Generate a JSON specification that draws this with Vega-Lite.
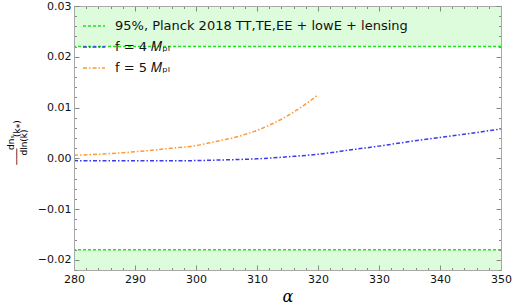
{
  "$schema": "https://vega.github.io/schema/vega-lite/v6.json",
  "width": 427,
  "height": 264,
  "autosize": "none",
  "padding": {"left": 74, "top": 6, "right": 11, "bottom": 37},
  "config": {
    "view": {"stroke": null},
    "font": "DejaVu Sans",
    "axis": {
      "domainColor": "#a8a8a8",
      "tickColor": "#888888",
      "labelColor": "#111111",
      "labelFont": "DejaVu Sans",
      "labelFontSize": 11,
      "labelFlush": false,
      "grid": false
    }
  },
  "datasets": {
    "curves": [
      {"alpha": 280, "value": -0.00045, "series": "f = 4 𝑀ₚₗ"},
      {"alpha": 285, "value": -0.0005, "series": "f = 4 𝑀ₚₗ"},
      {"alpha": 290, "value": -0.0005, "series": "f = 4 𝑀ₚₗ"},
      {"alpha": 295, "value": -0.0005, "series": "f = 4 𝑀ₚₗ"},
      {"alpha": 300, "value": -0.00045, "series": "f = 4 𝑀ₚₗ"},
      {"alpha": 305, "value": -0.0003, "series": "f = 4 𝑀ₚₗ"},
      {"alpha": 310, "value": -0.0001, "series": "f = 4 𝑀ₚₗ"},
      {"alpha": 315, "value": 0.0003, "series": "f = 4 𝑀ₚₗ"},
      {"alpha": 320, "value": 0.0008, "series": "f = 4 𝑀ₚₗ"},
      {"alpha": 325, "value": 0.0016, "series": "f = 4 𝑀ₚₗ"},
      {"alpha": 330, "value": 0.0024, "series": "f = 4 𝑀ₚₗ"},
      {"alpha": 335, "value": 0.0033, "series": "f = 4 𝑀ₚₗ"},
      {"alpha": 340, "value": 0.0041, "series": "f = 4 𝑀ₚₗ"},
      {"alpha": 345, "value": 0.0049, "series": "f = 4 𝑀ₚₗ"},
      {"alpha": 350, "value": 0.0058, "series": "f = 4 𝑀ₚₗ"},
      {"alpha": 280, "value": 0.0006, "series": "f = 5 𝑀ₚₗ"},
      {"alpha": 284, "value": 0.0008, "series": "f = 5 𝑀ₚₗ"},
      {"alpha": 288, "value": 0.0011, "series": "f = 5 𝑀ₚₗ"},
      {"alpha": 292, "value": 0.0015, "series": "f = 5 𝑀ₚₗ"},
      {"alpha": 296, "value": 0.002, "series": "f = 5 𝑀ₚₗ"},
      {"alpha": 300, "value": 0.0025, "series": "f = 5 𝑀ₚₗ"},
      {"alpha": 302, "value": 0.003, "series": "f = 5 𝑀ₚₗ"},
      {"alpha": 304, "value": 0.0035, "series": "f = 5 𝑀ₚₗ"},
      {"alpha": 306, "value": 0.004, "series": "f = 5 𝑀ₚₗ"},
      {"alpha": 308, "value": 0.0047, "series": "f = 5 𝑀ₚₗ"},
      {"alpha": 310, "value": 0.0055, "series": "f = 5 𝑀ₚₗ"},
      {"alpha": 312, "value": 0.0065, "series": "f = 5 𝑀ₚₗ"},
      {"alpha": 314, "value": 0.0077, "series": "f = 5 𝑀ₚₗ"},
      {"alpha": 316, "value": 0.0091, "series": "f = 5 𝑀ₚₗ"},
      {"alpha": 318, "value": 0.0107, "series": "f = 5 𝑀ₚₗ"},
      {"alpha": 320, "value": 0.0125, "series": "f = 5 𝑀ₚₗ"}
    ],
    "bounds": [
      {"bound": 0.022, "series": "95%, Planck 2018 TT,TE,EE + lowE + lensing"},
      {"bound": -0.018, "series": "95%, Planck 2018 TT,TE,EE + lowE + lensing"}
    ],
    "bands": [
      {"lo": 0.022, "hi": 0.03},
      {"lo": -0.022, "hi": -0.018}
    ]
  },
  "layer": [
    {
      "data": {"name": "bands"},
      "mark": {"type": "rect", "fill": "#dcfcdc"},
      "encoding": {
        "x": {"datum": 280, "type": "quantitative", "scale": {"domain": [280, 350], "nice": false, "zero": false},
          "axis": {"orient": "top", "title": null, "labels": false, "zindex": 2,
            "values": [280,282,284,286,288,290,292,294,296,298,300,302,304,306,308,310,312,314,316,318,320,322,324,326,328,330,332,334,336,338,340,342,344,346,348,350],
            "tickSize": {"condition": {"test": "datum.value % 10 === 0", "value": -5}, "value": -2.5}}},
        "x2": {"datum": 350},
        "y": {"field": "lo", "type": "quantitative", "scale": {"domain": [-0.022, 0.03], "nice": false, "zero": false},
          "axis": {"orient": "right", "title": null, "labels": false, "zindex": 2,
            "values": [-0.022,-0.02,-0.018,-0.016,-0.014,-0.012,-0.01,-0.008,-0.006,-0.004,-0.002,0,0.002,0.004,0.006,0.008,0.01,0.012,0.014,0.016,0.018,0.02,0.022,0.024,0.026,0.028,0.03],
            "tickSize": {"condition": {"test": "abs(datum.value*100 - round(datum.value*100)) < 0.001", "value": -5}, "value": -2.5}}},
        "y2": {"field": "hi"}
      }
    },
    {
      "data": {"name": "bounds"},
      "mark": {"type": "rule", "strokeWidth": 1.5},
      "encoding": {
        "y": {"field": "bound", "type": "quantitative", "axis": null},
        "color": {"field": "series", "type": "nominal"},
        "strokeDash": {"field": "series", "type": "nominal"}
      }
    },
    {
      "data": {"name": "curves"},
      "mark": {"type": "line", "strokeWidth": 1.5, "interpolate": "monotone"},
      "encoding": {
        "x": {"field": "alpha", "type": "quantitative",
          "axis": {"orient": "bottom", "zindex": 2, "title": "α", "titleFont": "DejaVu Serif", "titleFontStyle": "italic", "titleFontWeight": "normal", "titleFontSize": 16, "titlePadding": 4, "labelPadding": 8,
            "values": [280,282,284,286,288,290,292,294,296,298,300,302,304,306,308,310,312,314,316,318,320,322,324,326,328,330,332,334,336,338,340,342,344,346,348,350],
            "labelExpr": "datum.value % 10 === 0 ? datum.label : ''",
            "tickSize": {"condition": {"test": "datum.value % 10 === 0", "value": -5}, "value": -2.5}}},
        "y": {"field": "value", "type": "quantitative",
          "axis": {"orient": "left", "zindex": 2, "labelPadding": 8,
            "title": ["dnₛ\u00a0\u00a0\u00a0\u00a0\u00a0\u00a0\u00a0\u00a0\u00a0\u00a0\u00a0", "───\u00a0\u00a0\u00a0\u00a0(k⁎)", "dln(k)\u00a0\u00a0\u00a0\u00a0\u00a0\u00a0\u00a0\u00a0\u00a0\u00a0\u00a0"],
            "titleFont": "DejaVu Sans", "titleFontSize": 9, "titleFontWeight": "normal", "titleLineHeight": 6.5, "titlePadding": 9, "titleY": 136,
            "values": [-0.022,-0.02,-0.018,-0.016,-0.014,-0.012,-0.01,-0.008,-0.006,-0.004,-0.002,0,0.002,0.004,0.006,0.008,0.01,0.012,0.014,0.016,0.018,0.02,0.022,0.024,0.026,0.028,0.03],
            "labelExpr": "abs(datum.value*100 - round(datum.value*100)) < 0.001 ? replace(format(datum.value, '.2f'), '-', '−') : ''",
            "tickSize": {"condition": {"test": "abs(datum.value*100 - round(datum.value*100)) < 0.001", "value": -5}, "value": -2.5}}},
        "color": {"field": "series", "type": "nominal",
          "scale": {"domain": ["95%, Planck 2018 TT,TE,EE + lowE + lensing", "f = 4 𝑀ₚₗ", "f = 5 𝑀ₚₗ"], "range": ["#22e022", "#3a3af0", "#ff9a33"]},
          "legend": {"orient": "none", "legendX": 8, "legendY": 8, "title": null, "padding": 0, "labelFontSize": 13, "labelFont": "DejaVu Sans", "labelColor": "#111111", "labelLimit": 0, "symbolType": "stroke", "symbolSize": 484, "symbolStrokeWidth": 1.5, "rowPadding": 2, "labelOffset": 9}},
        "strokeDash": {"field": "series", "type": "nominal",
          "scale": {"domain": ["95%, Planck 2018 TT,TE,EE + lowE + lensing", "f = 4 𝑀ₚₗ", "f = 5 𝑀ₚₗ"], "range": [[3, 2], [4, 2, 1.5, 2], [4, 2, 1.5, 2]]},
          "legend": {"orient": "none", "legendX": 8, "legendY": 8, "title": null, "padding": 0, "labelFontSize": 13, "labelFont": "DejaVu Sans", "labelColor": "#111111", "labelLimit": 0, "symbolType": "stroke", "symbolSize": 484, "symbolStrokeWidth": 1.5, "rowPadding": 2, "labelOffset": 9}}
      }
    }
  ],
  "resolve": {"axis": {"x": "independent", "y": "independent"}}
}
